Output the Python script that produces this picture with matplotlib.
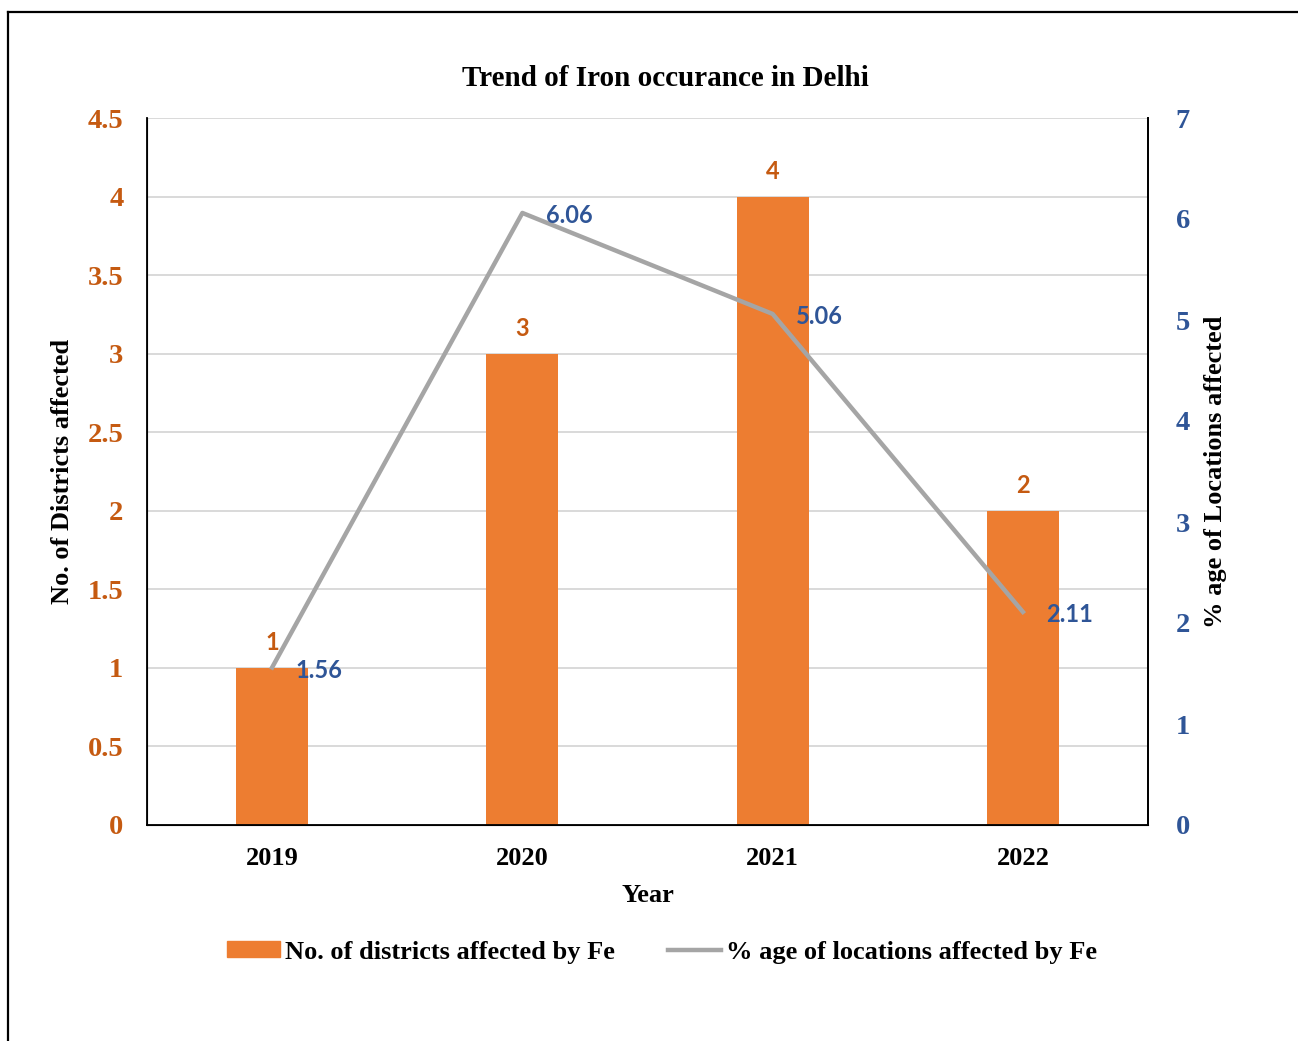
import matplotlib.pyplot as plt
from matplotlib.lines import Line2D
from matplotlib.patches import Patch

# data
years = ['2019', '2020', '2021', '2022']
districts = [1, 3, 4, 2]
pct_locations = [1.56, 6.06, 5.06, 2.11]

orange = '#ED7D31'
orange_txt = '#C55A11'
blue_txt = '#2F5597'
gray = '#A5A5A5'
serif = 'Liberation Serif'
sans = 'Lato'

fig = plt.figure(figsize=(12.98, 10.41), dpi=100)
ax = fig.add_axes([147/1298, 1-825/1041, (1148-147)/1298, (825-118)/1041])

x = range(len(years))
ax.bar(x, districts, width=0.288, color=orange, zorder=2)
ax.set_xlim(-0.5, 3.5)
ax.set_ylim(0, 4.5)
ax.set_yticks([0, 0.5, 1, 1.5, 2, 2.5, 3, 3.5, 4, 4.5])
ax.set_yticklabels(['0', '0.5', '1', '1.5', '2', '2.5', '3', '3.5', '4', '4.5'])
ax.grid(axis='y', color='#D9D9D9', linewidth=1.4, zorder=0)
ax.set_xticks(list(x))
ax.set_xticklabels(years)
ax.tick_params(length=0)
ax.tick_params(axis='y', pad=17, colors=orange_txt)
ax.tick_params(axis='x', pad=16)
for lbl in ax.get_yticklabels():
    lbl.set_fontfamily(serif)
    lbl.set_fontweight('bold')
    lbl.set_fontsize(20.5)
for lbl in ax.get_xticklabels():
    lbl.set_fontfamily(serif)
    lbl.set_fontweight('bold')
    lbl.set_fontsize(19)
ax.spines['top'].set_visible(False)
for s in ['left', 'bottom', 'right']:
    ax.spines[s].set_linewidth(1.3)

# bar value labels
for xi, v in zip(x, districts):
    ax.annotate(str(v), (xi, v), xytext=(0, 10), textcoords='offset points',
                ha='center', va='bottom', color=orange_txt, fontsize=17,
                fontweight='bold', family=sans)

ax.set_ylabel('No. of Districts affected', family=serif, fontweight='bold',
              fontsize=19, labelpad=10)
ax.set_xlabel('Year', family=serif, fontweight='bold', fontsize=19, labelpad=10)

# secondary axis with line
ax2 = ax.twinx()
ax2.plot(list(x), pct_locations, color=gray, linewidth=3.2, zorder=3)
ax2.set_ylim(0, 7)
ax2.set_yticks(range(8))
ax2.tick_params(length=0, pad=20, colors=blue_txt)
for lbl in ax2.get_yticklabels():
    lbl.set_fontfamily(serif)
    lbl.set_fontweight('bold')
    lbl.set_fontsize(20.5)
ax2.spines['top'].set_visible(False)
ax2.spines['right'].set_linewidth(1.3)
for xi, v in zip(x, pct_locations):
    ax2.annotate(f'{v:.2f}', (xi, v), xytext=(17, -2), textcoords='offset points',
                 ha='left', va='center', color=blue_txt, fontsize=17,
                 fontweight='bold', family=sans)
ax2.set_ylabel('% age of Locations affected', family=serif, fontweight='bold',
               fontsize=19, labelpad=10)

fig.text(665/1298, 1-79/1041, 'Trend of Iron occurance in Delhi', ha='center',
         va='center', family=serif, fontweight='bold', fontsize=21)

handles = [Patch(color=orange), Line2D([0], [0], color=gray, linewidth=3.2)]
fig.legend(handles, ['No. of districts affected by Fe', '% age of locations affected by Fe'],
           loc='center', bbox_to_anchor=(662/1298, 1-952/1041), ncol=2, frameon=False,
           prop={'family': serif, 'weight': 'bold', 'size': 19},
           handlelength=2.0, handleheight=0.55, handletextpad=0.2, columnspacing=2.0)

# outer frame
fig.add_artist(Line2D([8/1298, 1], [1-12/1041, 1-12/1041], color='black', linewidth=1.6))
fig.add_artist(Line2D([8/1298, 8/1298], [0, 1-12/1041], color='black', linewidth=1.6))

fig.savefig('out.png', dpi=100)
